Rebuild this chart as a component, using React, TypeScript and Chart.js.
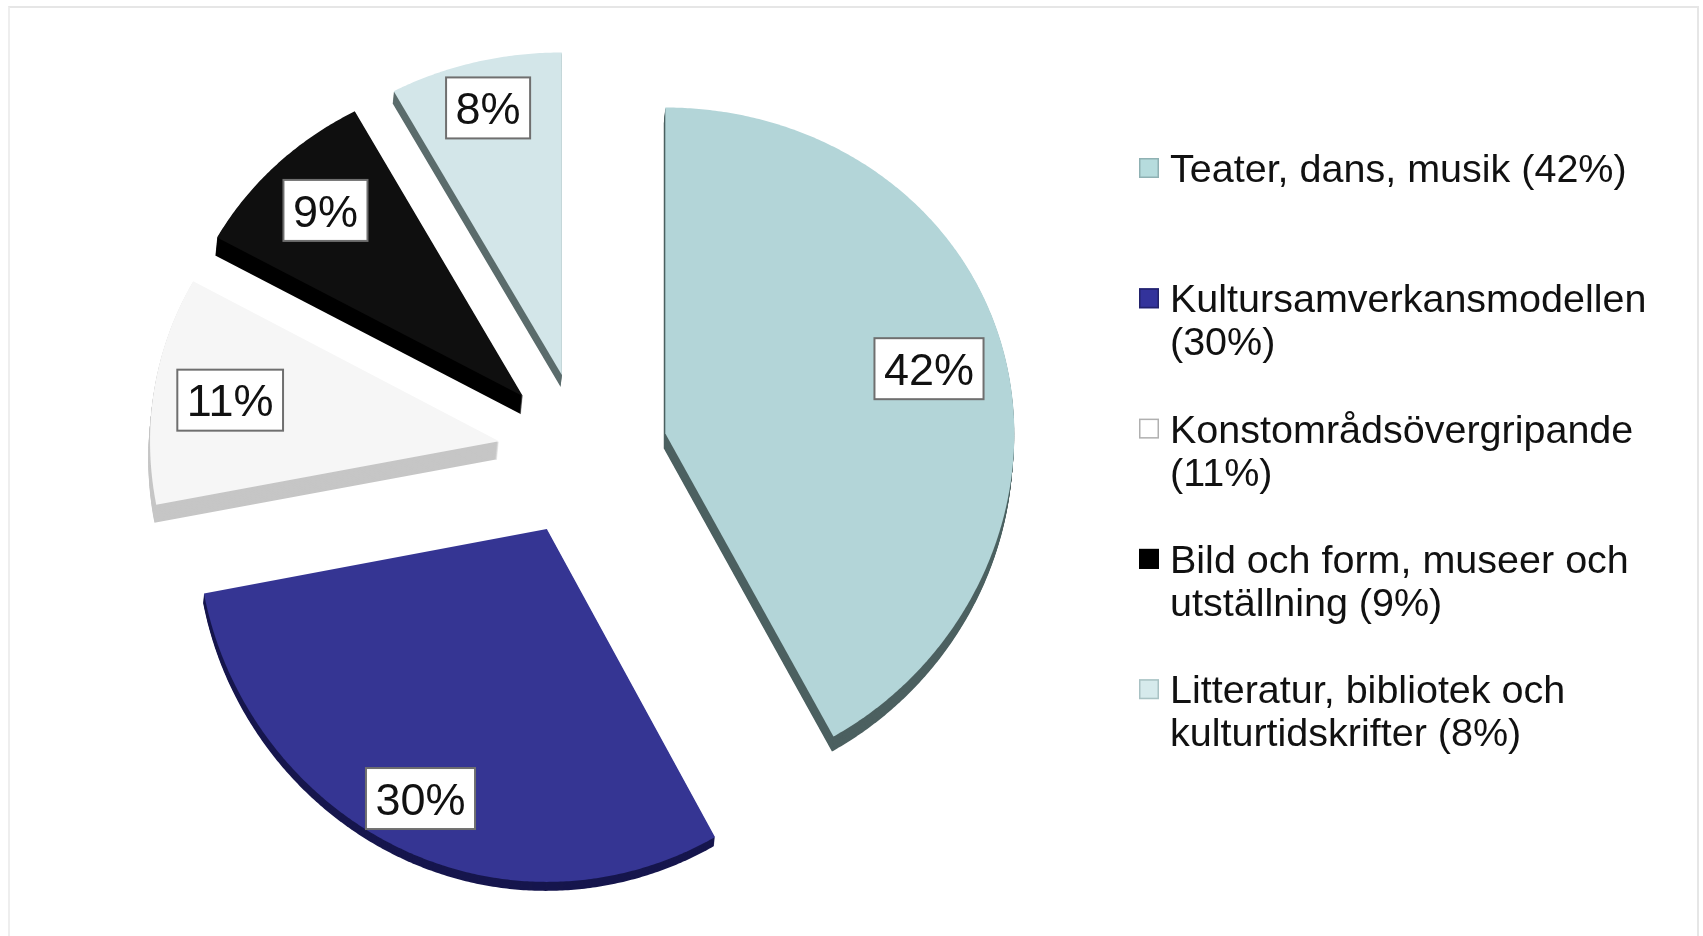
import React, { useEffect, useRef } from "react";
import { Chart, registerables } from "chart.js";

Chart.register(...registerables);

// ---- data ----
const categories = [
  "Teater, dans, musik",
  "Kultursamverkansmodellen",
  "Konstområdsövergripande",
  "Bild och form, museer och utställning",
  "Litteratur, bibliotek och kulturtidskrifter",
];
const shares = [42, 30, 11, 9, 8];

// ---- styles ----
const topColors = ["#b3d5d8", "#353593", "#f6f6f6", "#0f0f0f", "#d3e6e9"];
const sideColors = ["#4c6060", "#16164d", "#c6c6c6", "#000000", "#5b6c6c"];
const sideDepths = [15, 9, 18, 18, 12];
const swatchColors = ["#b6dcdd", "#33339b", "#ffffff", "#000000", "#d6eaec"];
const swatchBorders = ["#8fb1b3", "#22226b", "#b0b0b0", "#000000", "#a9c2c4"];
const labelRadius = [0.78, 0.85, 0.78, 0.8, 0.85];

const FONT = '"Liberation Sans", Arial, Helvetica, sans-serif';
const EXPLODE = 85;
const PERSP_A = 0.968;
const PERSP_B = 8.6e-5;

const LABEL_FONT = 45;
const LEGEND_FONT = 39.5;
const LEGEND_SWATCH_X = 1139;
const LEGEND_TEXT_X = 1170;
const LEGEND_TOP_BASELINE = 182;
const LEGEND_ITEM_GAP = 130.3;
const LEGEND_LINE_H = 43;
const LEGEND_MAX_W = 505;

function project(cx: number, cy: number, px: number, py: number): [number, number] {
  const v = py - cy;
  return [px, cy + v * (PERSP_A + PERSP_B * v)];
}

function sliceGeom(arc: any) {
  const p = arc.getProps(["x", "y", "startAngle", "endAngle", "outerRadius"], true);
  const mid = (p.startAngle + p.endAngle) / 2;
  const vx = p.x + Math.cos(mid) * EXPLODE;
  const vy = p.y + Math.sin(mid) * EXPLODE;
  return { ...p, mid, vx, vy };
}

function slicePoints(arc: any): [number, number][] {
  const g = sliceGeom(arc);
  const pts: [number, number][] = [project(g.x, g.y, g.vx, g.vy)];
  const span = g.endAngle - g.startAngle;
  const n = Math.max(8, Math.ceil(span / 0.008));
  for (let k = 0; k <= n; k++) {
    const a = g.startAngle + (span * k) / n;
    pts.push(project(g.x, g.y, g.vx + Math.cos(a) * g.outerRadius, g.vy + Math.sin(a) * g.outerRadius));
  }
  return pts;
}

function fillPoly(ctx: CanvasRenderingContext2D, pts: [number, number][], dx: number, dy: number) {
  ctx.beginPath();
  pts.forEach(([x, y], i) => (i === 0 ? ctx.moveTo(x + dx, y + dy) : ctx.lineTo(x + dx, y + dy)));
  ctx.closePath();
  ctx.fill();
}

const pie3dPlugin = {
  id: "pie3d",
  beforeDatasetDraw(chart: any, args: any) {
    const ctx: CanvasRenderingContext2D = chart.ctx;
    const meta = chart.getDatasetMeta(args.index);
    const polys = meta.data.map((arc: any) => slicePoints(arc));
    ctx.save();
    // sides (extrusion)
    polys.forEach((pts: [number, number][], i: number) => {
      ctx.fillStyle = sideColors[i];
      for (let k = sideDepths[i]; k >= 1; k--) fillPoly(ctx, pts, -k * 0.1, k);
    });
    // tops
    polys.forEach((pts: [number, number][], i: number) => {
      const arc = meta.data[i];
      ctx.fillStyle = arc.options.backgroundColor;
      fillPoly(ctx, pts, 0, 0);
    });
    ctx.restore();
    return false;
  },
  afterDraw(chart: any) {
    const ctx: CanvasRenderingContext2D = chart.ctx;
    const meta = chart.getDatasetMeta(0);
    const values: number[] = chart.data.datasets[0].data;
    ctx.save();
    // data labels
    ctx.font = `${LABEL_FONT}px ${FONT}`;
    meta.data.forEach((arc: any, i: number) => {
      const g = sliceGeom(arc);
      const r = g.outerRadius * labelRadius[i];
      const [lx, ly] = project(g.x, g.y, g.vx + Math.cos(g.mid) * r, g.vy + Math.sin(g.mid) * r);
      const text = `${values[i]}%`;
      const tw = ctx.measureText(text).width;
      const bw = tw + 19;
      const bh = 61;
      ctx.fillStyle = "#ffffff";
      ctx.fillRect(lx - bw / 2, ly - bh / 2, bw, bh);
      ctx.strokeStyle = "#6f6f6f";
      ctx.lineWidth = 2;
      ctx.strokeRect(lx - bw / 2, ly - bh / 2, bw, bh);
      ctx.fillStyle = "#111111";
      ctx.textAlign = "center";
      ctx.textBaseline = "alphabetic";
      ctx.fillText(text, lx, ly + (LABEL_FONT * 0.716) / 2);
    });
    // legend
    ctx.font = `${LEGEND_FONT}px ${FONT}`;
    ctx.textAlign = "left";
    ctx.textBaseline = "alphabetic";
    const labels: string[] = chart.data.labels;
    labels.forEach((cat, i) => {
      const full = `${cat} (${values[i]}%)`;
      const words = full.split(" ");
      const lines: string[] = [];
      let cur = "";
      words.forEach((w) => {
        const t = cur ? cur + " " + w : w;
        if (cur && ctx.measureText(t).width > LEGEND_MAX_W) {
          lines.push(cur);
          cur = w;
        } else cur = t;
      });
      if (cur) lines.push(cur);
      const base = LEGEND_TOP_BASELINE + i * LEGEND_ITEM_GAP;
      ctx.fillStyle = swatchColors[i];
      ctx.fillRect(LEGEND_SWATCH_X, base - 24, 20, 20);
      ctx.strokeStyle = swatchBorders[i];
      ctx.lineWidth = 1.5;
      ctx.strokeRect(LEGEND_SWATCH_X + 0.75, base - 23.25, 18.5, 18.5);
      ctx.fillStyle = "#111111";
      lines.forEach((ln, j) => ctx.fillText(ln, LEGEND_TEXT_X, base + j * LEGEND_LINE_H));
    });
    ctx.restore();
  },
};

export default function App() {
  const canvasRef = useRef<HTMLCanvasElement | null>(null);

  useEffect(() => {
    if (!canvasRef.current) return;
    const chart = new Chart(canvasRef.current, {
      type: "pie",
      data: {
        labels: categories,
        datasets: [
          {
            data: shares,
            backgroundColor: topColors,
            borderWidth: 0,
          },
        ],
      },
      options: {
        responsive: false,
        animation: false,
        devicePixelRatio: 1,
        radius: 349,
        layout: { padding: { left: 0, right: 537, top: 0, bottom: 28 } },
        plugins: {
          legend: { display: false },
          tooltip: { enabled: false },
        },
      } as any,
      plugins: [pie3dPlugin as any],
    });
    return () => chart.destroy();
  }, []);

  return (
    <div style={{ position: "fixed", left: 0, top: 0, width: 1703, height: 936, background: "#ffffff", overflow: "hidden" }}>
      <canvas ref={canvasRef} width={1703} height={936} style={{ position: "absolute", left: 0, top: 0 }} />
      <div
        style={{
          position: "absolute",
          left: 8,
          top: 6,
          width: 1691,
          height: 940,
          borderTop: "2px solid #e6e6e6",
          borderLeft: "2px solid #eeeeee",
          borderRight: "2px solid #e6e6e6",
          boxSizing: "border-box",
          pointerEvents: "none",
        }}
      />
    </div>
  );
}
